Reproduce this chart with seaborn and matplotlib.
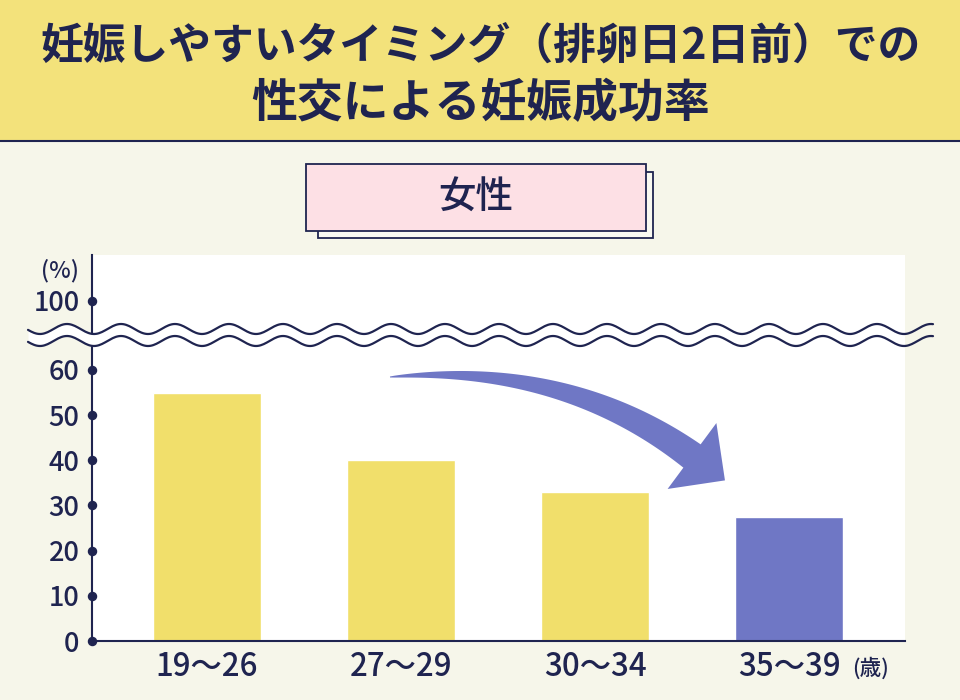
import matplotlib.pyplot as plt
import numpy as np
import pandas as pd
import seaborn as sns
from matplotlib.patches import Rectangle, Polygon

# data
age_groups = ["19〜26", "27〜29", "30〜34", "35〜39"]
success_rate = [55, 40, 33, 27.5]
bar_colors = ["#f1df6b", "#f1df6b", "#f1df6b", "#6f77c5"]
y_ticks = [0, 10, 20, 30, 40, 50, 60]
y_tick_labels = ["0", "10", "20", "30", "40", "50", "60"]
top_tick_label = "100"
title_line_1 = "妊娠しやすいタイミング（排卵日2日前）での"
title_line_2 = "性交による妊娠成功率"
panel_label = "女性"
y_unit = "(%)"
x_unit = "(歳)"

navy = "#1f2450"
cream = "#f6f6ea"
banner_yellow = "#f3e27b"
pink = "#fde0e5"

sns.set_theme(style="white")
plt.rcParams['font.family'] = ['Noto Sans CJK JP', 'DejaVu Sans']

fig = plt.figure(figsize=(9.6, 7), dpi=100)
fig.patch.set_facecolor(cream)

# main chart axes (broken y axis: the "100" tick sits above the break)
ax = fig.add_axes([92 / 960, 59 / 700, 813 / 960, 386 / 700])
df = pd.DataFrame({"age": age_groups, "rate": success_rate})
sns.barplot(data=df, x="age", y="rate", hue="age", palette=bar_colors,
            width=0.556, saturation=1, legend=False, ax=ax)
ax.set_facecolor("white")
ax.set_xlim(-0.592, 3.595)
ax.set_ylim(0, 85.45)
ax.set_xlabel("")
ax.set_ylabel("")

top_tick_pos = 75.3
all_ticks = y_ticks + [top_tick_pos]
ax.set_yticks(all_ticks)
ax.set_yticklabels(y_tick_labels + [top_tick_label])
ax.tick_params(axis="y", length=0, pad=9, labelsize=19.5, labelcolor=navy)
ax.tick_params(axis="x", length=0, pad=7, labelsize=22.5, labelcolor=navy)
for lab in ax.get_xticklabels() + ax.get_yticklabels():
    lab.set_fontweight("medium")
for side in ["top", "right"]:
    ax.spines[side].set_visible(False)
for side in ["left", "bottom"]:
    ax.spines[side].set_color(navy)
    ax.spines[side].set_linewidth(1.5)
ax.plot(np.zeros(len(all_ticks)), all_ticks, "o", color=navy, ms=5.8,
        transform=ax.get_yaxis_transform(), clip_on=False, zorder=5)

# overlay in pixel coordinates for the decorations
deco = fig.add_axes([0, 0, 1, 1], zorder=10)
deco.set_xlim(0, 960)
deco.set_ylim(700, 0)
deco.axis("off")
deco.patch.set_alpha(0)

# title banner
deco.add_patch(Rectangle((0, 0), 960, 140, facecolor=banner_yellow, edgecolor="none"))
deco.plot([0, 960], [141, 141], color=navy, lw=1.5)
deco.text(480, 46, title_line_1, ha="center", va="center", fontsize=30.8,
          fontweight="bold", color=navy)
deco.text(481, 104, title_line_2, ha="center", va="center", fontsize=33,
          fontweight="bold", color=navy)

# pink label box with its shadow box
deco.add_patch(Rectangle((318, 172), 335, 66, facecolor="#f9f9f1", edgecolor=navy, lw=1.3))
deco.add_patch(Rectangle((306, 164), 340, 67, facecolor=pink, edgecolor=navy, lw=1.3))
deco.text(476, 198, panel_label, ha="center", va="center", fontsize=27,
          fontweight="medium", color=navy)

# unit labels
deco.text(60, 271, y_unit, ha="center", va="center", fontsize=16.5,
          fontweight="medium", color=navy)
deco.text(870, 669, x_unit, ha="center", va="center", fontsize=15.5,
          fontweight="medium", color=navy)

# wavy break lines
wx = np.linspace(28, 933, 600)
phase = np.cos(2 * np.pi * (wx - 823) / 54)
upper = 329 - 5 * phase
lower = 341 - 5 * phase
inside = wx <= 905
deco.fill_between(wx[inside], upper[inside], lower[inside], color="white", lw=0)
deco.plot(wx, upper, color=navy, lw=1.6)
deco.plot(wx, lower, color=navy, lw=1.6)

# curved arrow pointing to the last bar
p0 = np.array([390.0, 377.0])
p1 = np.array([565.0, 362.0])
p2 = np.array([692.0, 456.0])
t = np.linspace(0, 1, 80)
curve = ((1 - t) ** 2)[:, None] * p0 + (2 * t * (1 - t))[:, None] * p1 + (t ** 2)[:, None] * p2
tang = (2 * (1 - t))[:, None] * (p1 - p0) + (2 * t)[:, None] * (p2 - p1)
tang = tang / np.linalg.norm(tang, axis=1)[:, None]
norm = np.stack([-tang[:, 1], tang[:, 0]], axis=1)
half_w = (1 + 28 * t ** 0.8) / 2
side_a = curve + norm * half_w[:, None]
side_b = curve - norm * half_w[:, None]
d = tang[-1]
n = norm[-1]
head = [p2 + n * 41, p2 + d * 41, p2 - n * 41]
arrow_pts = np.vstack([side_a, head, side_b[::-1]])
deco.add_patch(Polygon(arrow_pts, closed=True, facecolor="#6f77c5", edgecolor="none"))

fig.savefig("out.png", dpi=100, facecolor=cream)
